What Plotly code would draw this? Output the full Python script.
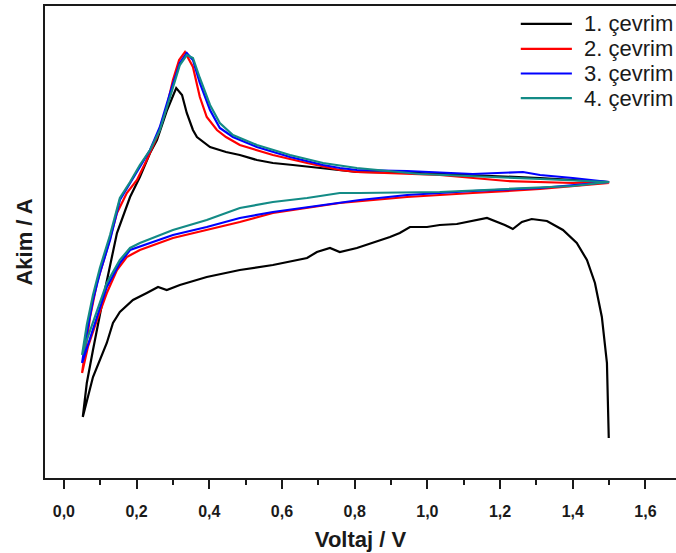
import plotly.graph_objects as go

# ---- data (voltage in V, current in arbitrary units) ----
labels = ["1. çevrim", "2. çevrim", "3. çevrim", "4. çevrim"]

c1_v = [1.499, 1.494, 1.480, 1.461, 1.439, 1.411, 1.373, 1.345, 1.329, 1.287, 1.260, 1.235, 1.213,
        1.164, 1.125, 1.081, 1.034, 0.999, 0.952, 0.924, 0.897, 0.850, 0.806, 0.759, 0.732, 0.696,
        0.669, 0.575, 0.484, 0.393, 0.319, 0.283, 0.259, 0.228, 0.190, 0.154, 0.135, 0.118, 0.080,
        0.052,
        0.063, 0.080, 0.107, 0.146, 0.182, 0.209, 0.237, 0.256, 0.284, 0.309, 0.325, 0.338, 0.355,
        0.366, 0.402, 0.446, 0.484, 0.531, 0.575, 0.630, 0.713, 0.806, 0.979, 1.125, 1.310, 1.500]
c1_i = [-2.48, -1.73, -1.27, -0.93, -0.70, -0.53, -0.40, -0.34, -0.31, -0.29, -0.32, -0.39, -0.35,
        -0.28, -0.31, -0.34, -0.35, -0.37, -0.37, -0.43, -0.47, -0.53, -0.58, -0.62, -0.58, -0.62,
        -0.68, -0.75, -0.80, -0.87, -0.95, -1.00, -0.97, -1.03, -1.10, -1.22, -1.33, -1.53, -1.87,
        -2.27,
        -1.93, -1.60, -1.10, -0.43, -0.07, 0.13, 0.37, 0.50, 0.80, 1.02, 0.95, 0.77, 0.60,
        0.53, 0.43, 0.38, 0.35, 0.30, 0.27, 0.25, 0.22, 0.18, 0.17, 0.15, 0.12, 0.08]

c2_v = [1.500, 1.310, 1.125, 0.944, 0.759, 0.669, 0.575, 0.484, 0.393, 0.300, 0.209, 0.173, 0.146,
        0.118, 0.091, 0.066, 0.050,
        0.072, 0.091, 0.118, 0.146, 0.173, 0.201, 0.228, 0.256, 0.283, 0.300, 0.317, 0.333, 0.355,
        0.374, 0.393, 0.421, 0.446, 0.484, 0.531, 0.575, 0.669, 0.759, 0.806, 1.034, 1.219, 1.400,
        1.500]
c2_i = [0.07, 0.01, -0.03, -0.07, -0.13, -0.18, -0.23, -0.32, -0.40, -0.48, -0.60, -0.67, -0.80,
        -1.03, -1.30, -1.57, -1.83,
        -1.27, -0.93, -0.60, -0.23, -0.03, 0.10, 0.30, 0.53, 0.83, 1.10, 1.30, 1.38, 1.23,
        0.93, 0.73, 0.60, 0.53, 0.45, 0.40, 0.35, 0.27, 0.20, 0.18, 0.15, 0.09, 0.07,
        0.08]

c3_v = [1.500, 1.310, 1.125, 0.944, 0.814, 0.669, 0.575, 0.484, 0.393, 0.300, 0.209, 0.182, 0.154,
        0.118, 0.091, 0.063, 0.050,
        0.063, 0.080, 0.099, 0.127, 0.154, 0.182, 0.209, 0.237, 0.264, 0.292, 0.319, 0.338, 0.355,
        0.374, 0.402, 0.429, 0.465, 0.531, 0.622, 0.713, 0.759, 0.806, 0.944, 1.125, 1.263, 1.310,
        1.400, 1.500]
c3_i = [0.08, 0.02, -0.01, -0.05, -0.10, -0.17, -0.22, -0.28, -0.37, -0.45, -0.57, -0.60, -0.73,
        -0.97, -1.27, -1.57, -1.73,
        -1.43, -1.10, -0.83, -0.50, -0.10, 0.07, 0.23, 0.40, 0.63, 0.97, 1.27, 1.37, 1.30,
        1.07, 0.80, 0.62, 0.53, 0.43, 0.33, 0.25, 0.22, 0.20, 0.19, 0.16, 0.18, 0.15,
        0.12, 0.08]

c4_v = [1.500, 1.400, 1.219, 1.034, 0.814, 0.759, 0.669, 0.575, 0.484, 0.393, 0.300, 0.209, 0.182,
        0.154, 0.118, 0.091, 0.063, 0.050,
        0.063, 0.080, 0.099, 0.127, 0.154, 0.182, 0.209, 0.237, 0.264, 0.292, 0.319, 0.338, 0.355,
        0.374, 0.402, 0.429, 0.465, 0.531, 0.622, 0.713, 0.806, 0.979, 1.125, 1.310, 1.500]
c4_i = [0.08, 0.04, 0.01, -0.02, -0.03, -0.03, -0.08, -0.12, -0.18, -0.30, -0.40, -0.53, -0.58,
        -0.70, -0.93, -1.20, -1.50, -1.65,
        -1.35, -1.05, -0.78, -0.45, -0.08, 0.08, 0.25, 0.40, 0.60, 0.93, 1.25, 1.35, 1.32,
        1.12, 0.85, 0.67, 0.55, 0.45, 0.35, 0.27, 0.22, 0.16, 0.14, 0.11, 0.08]

x_range = [-0.052, 1.684]
y_range = [-2.88, 1.84]

series = [(c1_v, c1_i), (c2_v, c2_i), (c3_v, c3_i), (c4_v, c4_i)]
colors = ["#000000", "#ff0000", "#0000ff", "#138b86"]

fig = go.Figure()
for (v, i), col, name in zip(series, colors, labels):
    fig.add_trace(go.Scatter(x=v, y=i, mode="lines", name=name, showlegend=False,
                             line=dict(color=col, width=2.2)))

# manual legend (long sample lines, right-aligned block)
leg_y = [0.962, 0.909, 0.857, 0.805]
for col, name, yy in zip(colors, labels, leg_y):
    fig.add_shape(type="line", xref="paper", yref="paper", x0=0.754, x1=0.835, y0=yy, y1=yy,
                  line=dict(color=col, width=2.2))
    fig.add_annotation(xref="paper", yref="paper", x=0.999, y=yy, text=name, showarrow=False,
                       xanchor="right", yanchor="middle",
                       font=dict(family="Arial, Liberation Sans", size=22, color="#1a1a1a"))

fig.update_layout(
    width=676, height=553,
    margin=dict(l=45, r=0, t=6, b=75),
    paper_bgcolor="white", plot_bgcolor="white",
    separators=",.",
    showlegend=False,
    font=dict(family="Arial, Liberation Sans", color="#1a1a1a"),
)
fig.update_xaxes(
    automargin=False,
    range=x_range, tickmode="linear", tick0=0, dtick=0.2, tickformat=".1f",
    ticks="outside", ticklen=9, tickwidth=2, tickcolor="#1a1a1a",
    ticklabelstandoff=9,
    minor=dict(ticks="outside", ticklen=5, tickwidth=2, tickcolor="#1a1a1a", dtick=0.1, tick0=0),
    showline=True, linecolor="#1a1a1a", linewidth=2, mirror=True,
    showgrid=False, zeroline=False,
    tickfont=dict(family="Arial, Liberation Sans", size=16, color="#1a1a1a", weight="bold"),
    title=dict(text="<b>Voltaj / V</b>", font=dict(size=22, family="Arial, Liberation Sans"), standoff=12),
)
fig.update_yaxes(
    automargin=False,
    range=y_range, showticklabels=False, ticks="",
    showline=True, linecolor="#1a1a1a", linewidth=2, mirror=False,
    showgrid=False, zeroline=False,
    title=dict(text="<b>Akim / A</b>", font=dict(size=22, family="Arial, Liberation Sans"), standoff=4),
)

fig.write_html("out.html", config={"displayModeBar": False},
               post_script="document.body.style.margin='0';")
